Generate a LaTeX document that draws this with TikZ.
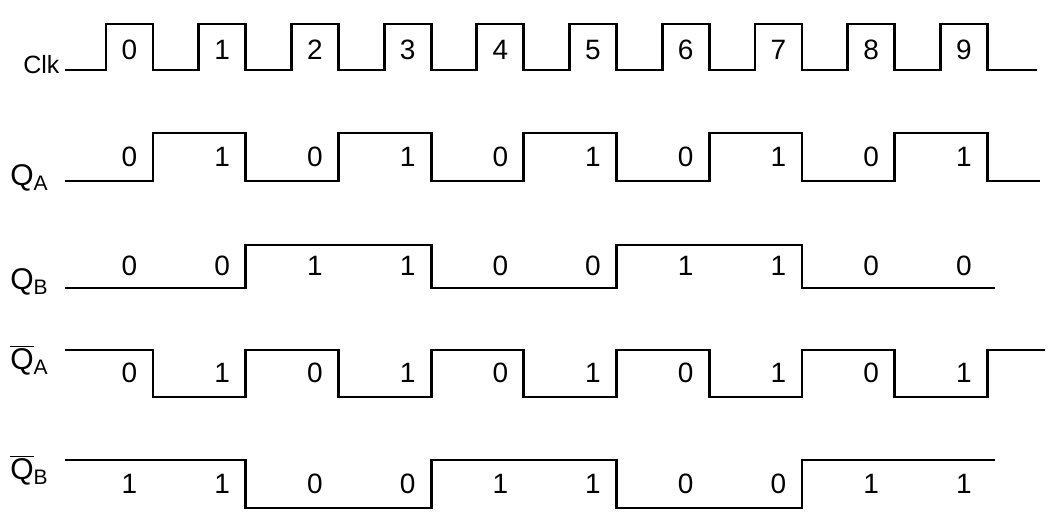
\documentclass[tikz,border=0pt]{standalone}
\usepackage{fontspec}
\setmainfont{Liberation Sans}
\tikzset{waveline/.style={line width=1.4pt, line join=miter},
    bitlabel/.style={font=\fontsize{14}{16}\selectfont, inner sep=0pt},
    siglabel/.style={font=\fontsize{15}{17}\selectfont, anchor=west, inner sep=0pt}
}

\begin{document}
\begin{tikzpicture}[x=0.5pt,y=-0.5pt]
           \useasboundingbox (0,0) rectangle (1053,515);
           \node[siglabel,font=\fontsize{12.5}{14}\selectfont] (clk) at (23,65) {Clk};
           \node[siglabel] (qa) at (10,178) {Q\textsubscript{A}};
           \node[siglabel] (qb) at (10,282) {Q\textsubscript{B}};
           \node[siglabel] (qan) at (10,360) {$\overline{\hbox{Q}}$\textsubscript{A}};
           \node[siglabel] (qbn) at (10,470) {$\overline{\hbox{Q}}$\textsubscript{B}};
           % clock
           \draw[waveline] (65,70) \foreach \k in {0,...,9} { -- ({106+92.7*\k},70) -- ({106+92.7*\k},24) -- ({153+92.7*\k},24) -- ({153+92.7*\k},70) } -- (1037,70);
           \draw[waveline] (65,181) \foreach \k in {0,2,4,6,8} { -- ({153+92.7*\k},181) -- ({153+92.7*\k},133) -- ({153+92.7*(\k+1)},133) -- ({153+92.7*(\k+1)},181) } -- (1040,181);
           \draw[waveline] (65,288) \foreach \k in {1,5} { -- ({153+92.7*\k},288) -- ({153+92.7*\k},245) -- ({153+92.7*(\k+2)},245) -- ({153+92.7*(\k+2)},288) } -- (995,288);
           \draw[waveline] (65,350) \foreach \k in {0,2,4,6,8} { -- ({153+92.7*\k},350) -- ({153+92.7*\k},397) -- ({153+92.7*(\k+1)},397) -- ({153+92.7*(\k+1)},350) } -- (1045,350);
           \draw[waveline] (65,460) \foreach \k in {1,5} { -- ({153+92.7*\k},460) -- ({153+92.7*\k},508) -- ({153+92.7*(\k+2)},508) -- ({153+92.7*(\k+2)},460) } -- (995,460);
           % bit values
           \foreach \k/\a/\b/\c/\d in {0/0/0/0/1,1/1/0/1/1,2/0/1/0/0,3/1/1/1/0,4/0/0/0/1,5/1/0/1/1,6/0/1/0/0,7/1/1/1/0,8/0/0/0/1,9/1/0/1/1} {
               \node[bitlabel] (clk\k) at ({129.5+92.7*\k},50) {\k};
               \node[bitlabel] (qa\k) at ({129.5+92.7*\k},157) {\a};
               \node[bitlabel] (qb\k) at ({129.5+92.7*\k},266) {\b};
               \node[bitlabel] (qan\k) at ({129.5+92.7*\k},373) {\c};
               \node[bitlabel] (qbn\k) at ({129.5+92.7*\k},484) {\d};
           }
         \end{tikzpicture}
\end{document}
